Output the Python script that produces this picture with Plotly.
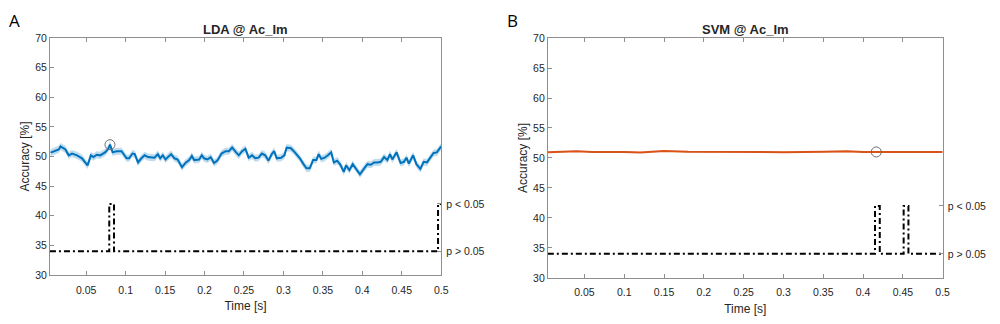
import plotly.graph_objects as go

# ---------------- data ----------------
lda_time = [0.0048, 0.0153, 0.0174, 0.0236, 0.0278, 0.0320, 0.0383, 0.0446, 0.0517, 0.0559,
            0.0592, 0.0634, 0.0676, 0.0739, 0.0780, 0.0801, 0.0835, 0.0885, 0.0948, 0.1011,
            0.1044, 0.1086, 0.1115, 0.1157, 0.1199, 0.1241, 0.1283, 0.1366, 0.1408, 0.1438,
            0.1471, 0.1505, 0.1534, 0.1576, 0.1618, 0.1659, 0.1714, 0.1764, 0.1806, 0.1839,
            0.1869, 0.1932, 0.1965, 0.1994, 0.2036, 0.2078, 0.2120, 0.2162, 0.2216, 0.2266,
            0.2308, 0.2350, 0.2400, 0.2434, 0.2476, 0.2518, 0.2559, 0.2601, 0.2643, 0.2685,
            0.2727, 0.2769, 0.2811, 0.2852, 0.2882, 0.2915, 0.2970, 0.3012, 0.3041, 0.3095,
            0.3145, 0.3208, 0.3250, 0.3292, 0.3334, 0.3376, 0.3418, 0.3447, 0.3480, 0.3522,
            0.3564, 0.3606, 0.3639, 0.3681, 0.3723, 0.3765, 0.3794, 0.3836, 0.3878, 0.3920,
            0.3970, 0.4024, 0.4066, 0.4108, 0.4150, 0.4192, 0.4234, 0.4276, 0.4318, 0.4351,
            0.4380, 0.4435, 0.4485, 0.4527, 0.4560, 0.4590, 0.4644, 0.4686, 0.4736, 0.4778,
            0.4820, 0.4862, 0.4904, 0.4945, 0.5000]
lda_acc = [50.65, 51.2, 51.7, 51.2, 50.2, 50.5, 50.2, 49.7, 48.5, 50.2,
           49.9, 50.3, 50.2, 50.7, 51.3, 52.0, 50.7, 50.9, 50.9, 49.7,
           49.7, 50.5, 50.4, 49.0, 49.7, 50.2, 49.9, 49.8, 50.4, 49.7,
           50.2, 49.5, 49.9, 50.4, 49.7, 49.5, 48.2, 49.0, 49.4, 50.1,
           49.4, 49.5, 50.2, 49.7, 49.5, 49.9, 48.9, 49.3, 50.5, 50.9,
           50.9, 51.5, 50.7, 50.2, 50.9, 51.3, 49.8, 50.2, 49.7, 49.8,
           50.5, 50.2, 49.3, 50.4, 50.9, 49.7, 49.8, 50.2, 51.5, 51.4,
           50.7, 49.7, 48.8, 48.0, 48.0, 49.4, 49.4, 50.4, 49.6, 49.8,
           50.2, 50.7, 49.0, 49.3, 48.6, 47.4, 48.5, 47.7, 48.7, 48.0,
           47.0, 48.0, 48.7, 48.6, 49.0, 49.0, 49.1, 49.9, 49.4, 50.4,
           49.5, 50.7, 48.9, 49.1, 49.8, 48.8, 50.2, 48.7, 47.9, 49.1,
           49.0, 49.8, 50.6, 50.7, 51.7]
lda_sem = 0.6
lda_peak = (0.0801, 52.0)
lda_sig_intervals = [(0.0792, 0.0852), (0.4960, 0.5000)]

svm_time = [0.004, 0.02, 0.04, 0.06, 0.08, 0.10, 0.12, 0.15, 0.18, 0.20, 0.25,
            0.30, 0.35, 0.38, 0.40, 0.42, 0.45, 0.48, 0.50]
svm_acc = [50.95, 51.0, 51.12, 51.0, 51.05, 51.0, 50.93, 51.15, 51.02, 51.0, 51.0,
           50.97, 51.02, 51.1, 51.0, 51.02, 51.05, 50.97, 51.0]
svm_sem = 0.1
svm_peak = (0.4166, 51.0)
svm_sig_intervals = [(0.4150, 0.4210), (0.4510, 0.4570)]

sig_low, sig_high = 34, 42
x_range = [0.004, 0.5]
y_range = [30, 70]
x_ticks = [0.05, 0.1, 0.15, 0.2, 0.25, 0.3, 0.35, 0.4, 0.45, 0.5]
x_ticklabels = ["0.05", "0.1", "0.15", "0.2", "0.25", "0.3", "0.35", "0.4", "0.45", "0.5"]
y_ticks = [30, 35, 40, 45, 50, 55, 60, 65, 70]
p_ticks = [sig_low, sig_high]
p_ticklabels = ["p > 0.05", "p < 0.05"]
titles = ["LDA @ Ac_Im", "SVM @ Ac_Im"]
panel_letters = ["A", "B"]

LDA_COLOR = "#0072BD"
SVM_COLOR = "#D95319"
FONT = "Liberation Sans, Arial, sans-serif"
TXT = "#262626"
AX = "#8f8f8f"


def sig_steps(intervals):
    xs, ys = [x_range[0]], [sig_low]
    for a, b in intervals:
        xs += [a, a, b, b]
        ys += [sig_low, sig_high, sig_high, sig_low if b < x_range[1] else sig_high]
    if xs[-1] < x_range[1]:
        xs.append(x_range[1])
        ys.append(sig_low)
    return xs, ys


fig = go.Figure()

panels = [
    dict(t=lda_time, y=lda_acc, sem=lda_sem, color=LDA_COLOR, band="rgba(0,114,189,0.25)",
         peak=lda_peak, sig=lda_sig_intervals, xa="x", ya="y", ya2="y3", lw=2),
    dict(t=svm_time, y=svm_acc, sem=svm_sem, color=SVM_COLOR, band="rgba(217,83,25,0.25)",
         peak=svm_peak, sig=svm_sig_intervals, xa="x2", ya="y2", ya2="y4", lw=2),
]

for p in panels:
    upper = [v + p["sem"] for v in p["y"]]
    lower = [v - p["sem"] for v in p["y"]]
    fig.add_trace(go.Scatter(x=p["t"] + p["t"][::-1], y=upper + lower[::-1], fill="toself",
                             fillcolor=p["band"], line=dict(width=0), mode="lines",
                             hoverinfo="skip", showlegend=False, xaxis=p["xa"], yaxis=p["ya"]))
    fig.add_trace(go.Scatter(x=p["t"], y=p["y"], mode="lines",
                             line=dict(color=p["color"], width=p["lw"]),
                             showlegend=False, xaxis=p["xa"], yaxis=p["ya"]))
    fig.add_trace(go.Scatter(x=[p["peak"][0]], y=[p["peak"][1]], mode="markers",
                             marker=dict(symbol="circle-open", size=10, color="#6e6e6e",
                                         line=dict(width=1)),
                             showlegend=False, xaxis=p["xa"], yaxis=p["ya"]))
    sx, sy = sig_steps(p["sig"])
    fig.add_trace(go.Scatter(x=sx, y=sy, mode="lines",
                             line=dict(color="black", width=2, dash="6px,3px,2px,3px"),
                             showlegend=False, xaxis=p["xa"], yaxis=p["ya2"]))

H = 324
dom_x = [[0.0503, 0.4443], [0.5517, 0.9493]]
dom_y = [[1 - 279.3 / H, 1 - 33.3 / H], [1 - 282.3 / H, 1 - 33.3 / H]]

common_x = dict(range=x_range, tickvals=x_ticks, ticktext=x_ticklabels, ticks="inside",
                ticklen=4, tickcolor=AX, showline=True, linecolor=AX, linewidth=1,
                mirror="ticks", showgrid=False, zeroline=False, ticklabelstandoff=5,
                tickfont=dict(family=FONT, size=10.5, color=TXT),
                title=dict(text="Time [s]", font=dict(family=FONT, size=12, color=TXT), standoff=7))
common_y = dict(range=y_range, tickvals=y_ticks, ticks="inside", ticklen=4, tickcolor=AX,
                showline=True, linecolor=AX, linewidth=1, mirror=True, showgrid=False,
                zeroline=False, tickfont=dict(family=FONT, size=10.5, color=TXT),
                title=dict(text="Accuracy [%]", font=dict(family=FONT, size=12, color=TXT),
                           standoff=2))
common_p = dict(range=y_range, tickvals=p_ticks, ticktext=p_ticklabels, ticks="inside",
                ticklen=4, tickcolor=AX, showline=False, showgrid=False, zeroline=False,
                side="right", ticklabelstandoff=4,
                tickfont=dict(family=FONT, size=10.5, color=TXT))

fig.update_layout(
    width=1000, height=324, margin=dict(l=0, r=0, t=0, b=0),
    paper_bgcolor="white", plot_bgcolor="white",
    xaxis=dict(domain=dom_x[0], anchor="y", **common_x),
    yaxis=dict(domain=dom_y[0], anchor="x", **common_y),
    xaxis2=dict(domain=dom_x[1], anchor="y2", **common_x),
    yaxis2=dict(domain=dom_y[1], anchor="x2", **common_y),
    yaxis3=dict(overlaying="y", anchor="x", **common_p),
    yaxis4=dict(overlaying="y2", anchor="x2", **common_p),
)

annotations = []
for i in range(2):
    annotations.append(dict(text="<b>" + titles[i] + "</b>", xref="paper", yref="paper",
                            x=(dom_x[i][0] + dom_x[i][1]) / 2, y=1 - 24 / H,
                            xanchor="center", yanchor="middle", showarrow=False,
                            font=dict(family=FONT, size=13, color=TXT)))
annotations.append(dict(text=panel_letters[0], xref="paper", yref="paper", x=0.007, y=1 - 15 / H,
                        xanchor="left", yanchor="middle", showarrow=False,
                        font=dict(family="Open Sans, sans-serif", size=17, color="black")))
annotations.append(dict(text=panel_letters[1], xref="paper", yref="paper", x=0.509, y=1 - 15 / H,
                        xanchor="left", yanchor="middle", showarrow=False,
                        font=dict(family="Open Sans, sans-serif", size=17, color="black")))
fig.update_layout(annotations=annotations)

fig.write_html("out.html")
